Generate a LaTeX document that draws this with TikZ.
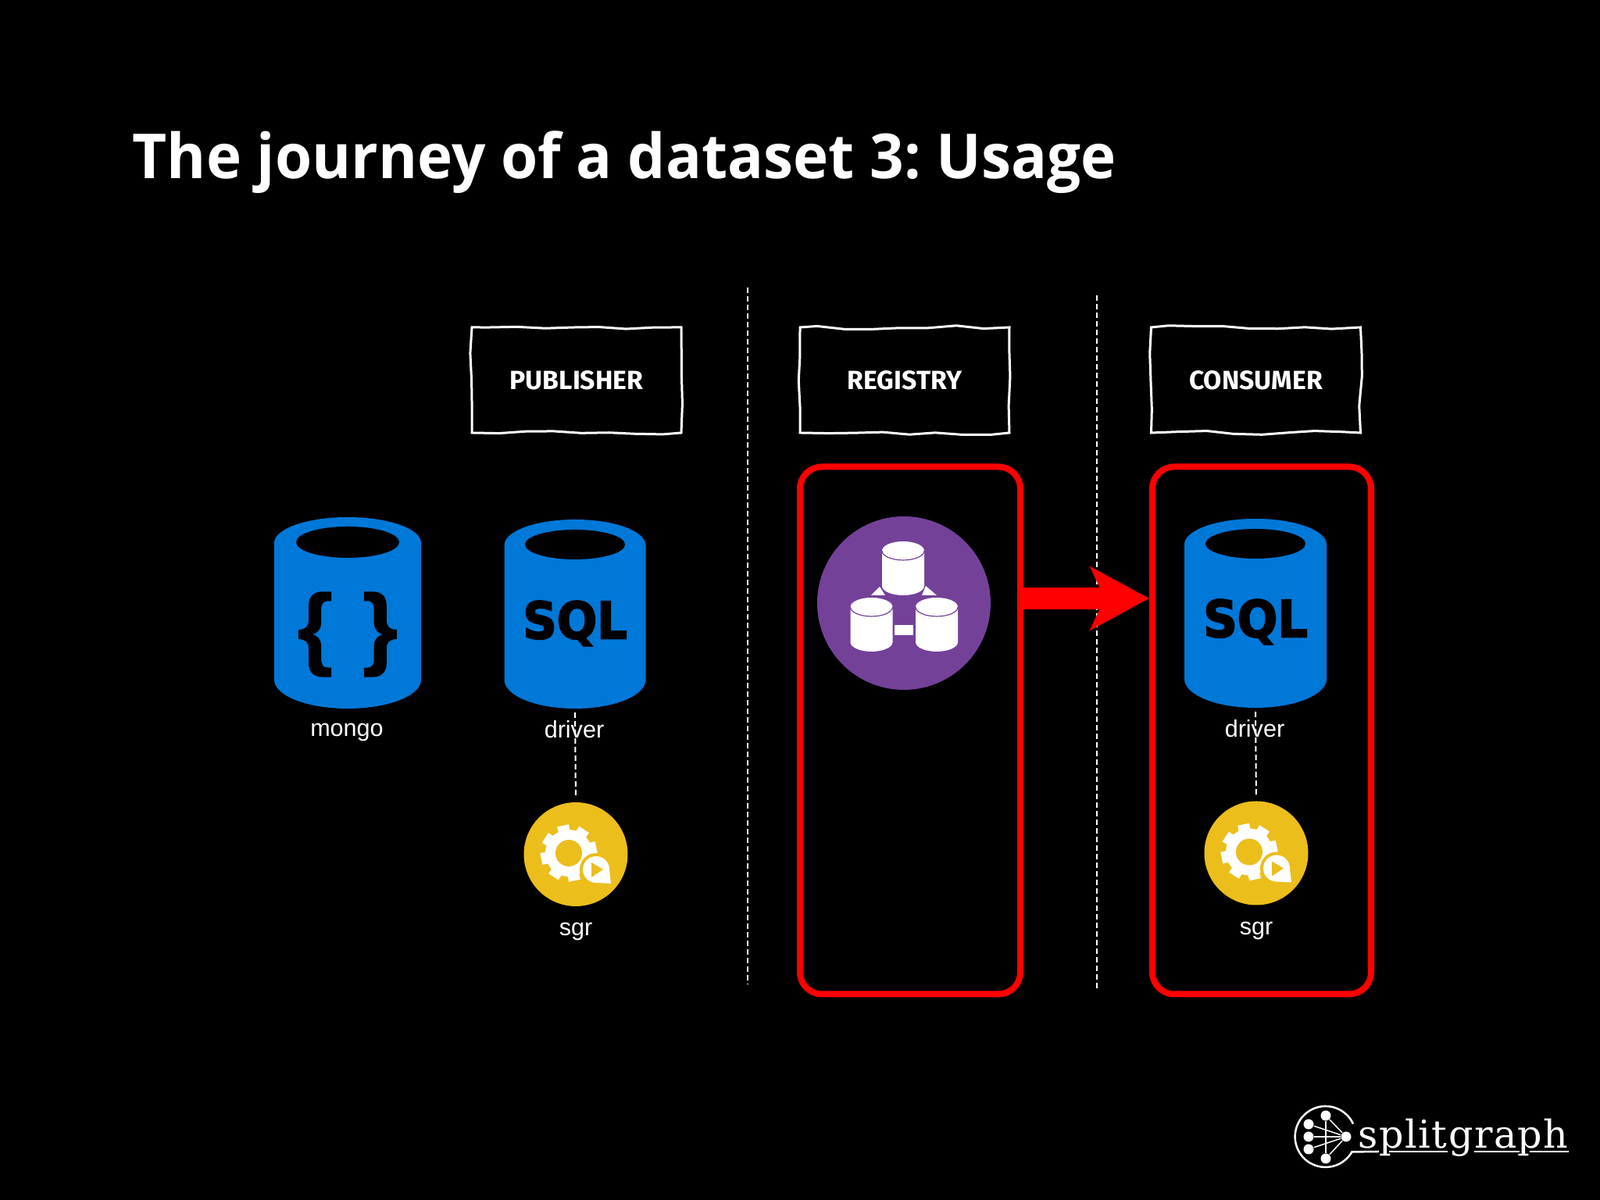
\documentclass[tikz,border=0pt]{standalone}
\usepackage{xcolor}
\usepackage{fontspec}
\usepackage{tikz}
\usetikzlibrary{arrows.meta,shapes.geometric,decorations.pathmorphing}
\setmainfont{Liberation Sans}
\newfontfamily\titlefont[FakeStretch=0.961]{Open Sans}
\newfontfamily\sketchfont{Fira Sans}
\newfontfamily\heavyfont[FakeBold=3,FakeStretch=0.93]{DejaVu Sans}
\newfontfamily\bracefont[FakeBold=1]{Liberation Sans}
\newfontfamily\logofont[LetterSpace=3]{DejaVu Serif}
\definecolor{dbblue}{HTML}{0078D7}
\definecolor{sgryellow}{HTML}{EBBE1C}
\definecolor{regpurple}{HTML}{744199}
\tikzset{
    rolebox/.style={draw=white, line width=0.03cm, minimum width=2.68cm, minimum height=1.35cm, decorate, decoration={random steps, segment length=0.35cm, amplitude=0.025cm}, text=white, font=\sketchfont\fontsize{9.6}{11}\selectfont\bfseries},
    redbox/.style={draw=red, line width=0.08cm, rounded corners=0.28cm, minimum height=6.75cm},
    dbhole/.style={ellipse, fill=black, inner sep=0},
    dbtext/.style={text=black, inner sep=0, font=\heavyfont\bfseries\fontsize{18.5}{22}\selectfont},
    iconlabel/.style={text=white, inner sep=0, font=\fontsize{8.7}{10}\selectfont},
    sgrdisc/.style={circle, fill=sgryellow, minimum size=1.33cm, inner sep=0},
    thindash/.style={draw=white, line width=0.02cm, dash pattern=on 0.07cm off 0.04cm},
    logodot/.style={circle, fill=white, inner sep=0, minimum size=0.13cm},
    logoline/.style={draw=white, line width=0.025cm},
    pics/dbcan/.style n args={2}{code={
        \fill[dbblue] (-#1,#2-0.33) -- (-#1,-#2+0.37) arc[start angle=180, end angle=360, x radius=#1, y radius=0.37] -- (#1,#2-0.33) arc[start angle=0, end angle=180, x radius=#1, y radius=0.33] -- cycle;
        \coordinate (-bottom) at (0,-#2);
    }},
    gearicon/.pic={
        \draw[white, line width=0.15cm, rotate=12] (-0.36,0) -- (0.36,0);
        \draw[white, line width=0.15cm, rotate=57] (-0.36,0) -- (0.36,0);
        \draw[white, line width=0.15cm, rotate=102] (-0.36,0) -- (0.36,0);
        \draw[white, line width=0.15cm, rotate=147] (-0.36,0) -- (0.36,0);
        \fill[white] (0,0) circle (0.30);
        \fill[sgryellow] (0,0) circle (0.17);
        \fill[sgryellow] (0.35,-0.21) circle (0.21);
        \fill[white] (0.35,-0.21) circle (0.17);
        \fill[white] (0.35,-0.38) -- (0.54,-0.39) -- (0.52,-0.21) -- cycle;
        \fill[sgryellow] (0.29,-0.12) -- (0.29,-0.31) -- (0.44,-0.21) -- cycle;
    },
    minidb/.pic={
        \fill[white] (-0.27,0.225) -- (-0.27,-0.225) arc[start angle=180, end angle=360, x radius=0.27, y radius=0.12] -- (0.27,0.225) arc[start angle=0, end angle=180, x radius=0.27, y radius=0.12] -- cycle;
        \draw[regpurple, line width=0.012cm] (-0.27,0.225) arc[start angle=180, end angle=360, x radius=0.27, y radius=0.12];
    }
}
\begin{document}
\frenchspacing
\begin{tikzpicture}[scale=1]
    % Page
    \fill[black] (0,0) rectangle (20.48,15.36);
    \useasboundingbox (0,0) rectangle (20.48,15.36);

    % Title
    \node[anchor=base west, inner sep=0, text=white, font=\titlefont\bfseries\fontsize{22.6}{27}\selectfont] (title) at (1.69,13.07) {The journey of a dataset 3: Usage};

    % Column headers
    \node[rolebox] (publisher) at (7.38,10.495) {PUBLISHER};
    \node[rolebox] (registry) at (11.58,10.495) {REGISTRY};
    \node[rolebox] (consumer) at (16.075,10.495) {CONSUMER};

    % Column dividers
    \coordinate (divatop) at (9.57,11.68);
    \coordinate (divabot) at (9.57,2.76);
    \coordinate (divbtop) at (14.04,11.58);
    \coordinate (divbbot) at (14.04,2.68);
    \draw[thindash] (divatop) -- (divabot);
    \draw[thindash] (divbtop) -- (divbbot);

    % Mongo
    \pic (mongodb) at (4.45,7.515) {dbcan={0.94}{1.225}};
    \node[dbhole, minimum width=1.32cm, minimum height=0.40cm] (mongohole) at (4.45,8.42) {};
    \node[inner sep=0, text=black, font=\bracefont\bfseries\fontsize{33}{36}\selectfont] (mongobrace) at (4.45,7.24) {\{\hspace{0.38cm}\}};
    \node[iconlabel] (mongolabel) at (4.44,5.99) {mongo};

    % Publisher driver
    \pic (pubdb) at (7.36,7.50) {dbcan={0.905}{1.21}};
    \node[dbhole, minimum width=1.28cm, minimum height=0.38cm] (pubhole) at (7.36,8.39) {};
    \node[dbtext] (pubsql) at (7.36,7.38) {SQL};
    \node[iconlabel] (publabel) at (7.35,6.02) {driver};
    \node[sgrdisc] (pubsgr) at (7.37,4.425) {};
    \pic at (7.28,4.44) {gearicon};
    \node[iconlabel] (pubsgrlabel) at (7.37,3.44) {sgr};
    \draw[thindash, shorten <=0.05cm, shorten >=0.08cm] (pubdb-bottom) -- (pubsgr.north);

    % Registry
    \node[redbox, minimum width=2.82cm] (regbox) at (11.65,6.01) {};
    \node[circle, fill=regpurple, minimum size=2.22cm, inner sep=0] (regdisc) at (11.57,7.64) {};
    \fill[white] (11.15,7.74) -- (11.26,7.85) -- (11.33,7.74) -- cycle;
    \fill[white] (11.99,7.74) -- (11.85,7.86) -- (11.80,7.74) -- cycle;
    \pic at (11.56,8.085) {minidb};
    \pic at (11.155,7.365) {minidb};
    \pic at (11.99,7.365) {minidb};
    \node[fill=white, minimum width=0.24cm, minimum height=0.13cm, inner sep=0] (reglink) at (11.57,7.295) {};

    % Consumer driver
    \node[redbox, minimum width=2.80cm] (conbox) at (16.15,6.01) {};
    \pic (condb) at (16.07,7.51) {dbcan={0.91}{1.21}};
    \node[dbhole, minimum width=1.28cm, minimum height=0.38cm] (conhole) at (16.07,8.40) {};
    \node[dbtext] (consql) at (16.07,7.40) {SQL};
    \node[iconlabel] (conlabel) at (16.06,6.03) {driver};
    \node[sgrdisc] (consgr) at (16.08,4.44) {};
    \pic at (15.99,4.455) {gearicon};
    \node[iconlabel] (consgrlabel) at (16.08,3.45) {sgr};
    \draw[thindash, shorten <=0.05cm, shorten >=0.08cm] (condb-bottom) -- (consgr.north);

    % Registry to consumer
    \coordinate (flowlevel) at (0,7.70);
    \draw[red, line width=0.28cm, -{Stealth[length=0.75cm, width=0.80cm, inset=0.18cm]}] (regbox.east |- flowlevel) -- (conbox.west |- flowlevel);

    % Logo
    \node[logodot] (logohub) at (17.23,0.81) {};
    \node[logodot] (logoa) at (16.97,1.08) {};
    \node[logodot] (logob) at (16.75,0.97) {};
    \node[logodot] (logoc) at (16.75,0.81) {};
    \node[logodot] (logod) at (16.75,0.65) {};
    \node[logodot] (logoe) at (16.97,0.53) {};
    \draw[logoline, line width=0.015cm] (logoa) -- (logohub);
    \draw[logoline, line width=0.015cm] (logob) -- (logohub);
    \draw[logoline, line width=0.015cm] (logoc) -- (logohub);
    \draw[logoline, line width=0.015cm] (logod) -- (logohub);
    \draw[logoline, line width=0.015cm] (logoe) -- (logohub);
    \draw[logoline, line width=0.015cm] (logoa) -- (logoe);
    \draw[logoline] (17.32,0.975) arc[start angle=25, end angle=330, radius=0.39] -- (17.65,0.62);
    \draw[logoline] (17.78,0.62) -- (18.53,0.62);
    \draw[logoline] (18.87,0.62) -- (19.45,0.62);
    \draw[logoline] (19.58,0.62) -- (20.08,0.62);
    \node[anchor=base west, inner sep=0, text=white, font=\logofont\fontsize{14}{16}\selectfont] (logotext) at (17.38,0.66) {splitgraph};
\end{tikzpicture}
\end{document}
